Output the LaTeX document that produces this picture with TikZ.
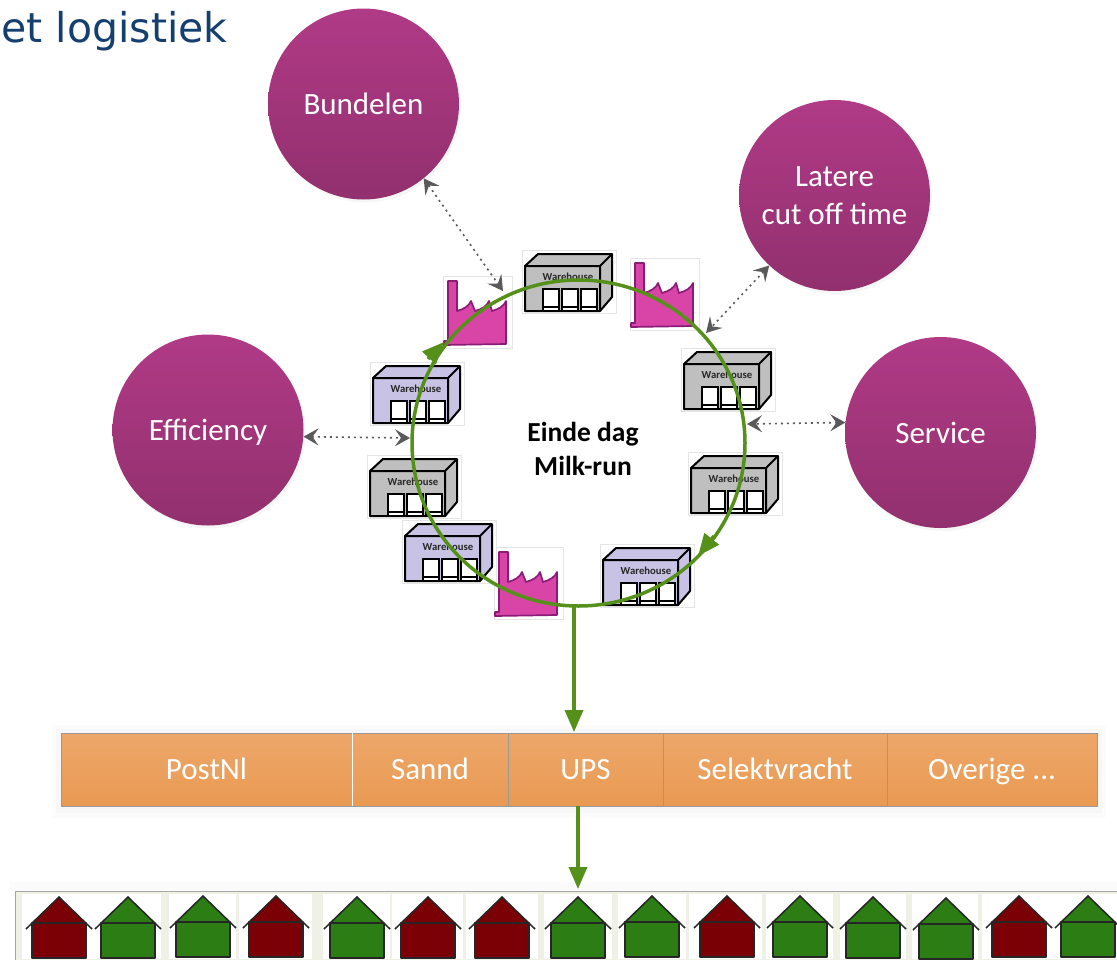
\documentclass[tikz,border=0pt]{standalone}
\usepackage{fontspec}
\setmainfont{Carlito}
\newfontfamily\titlefont{DejaVu Sans}
\usepackage{tikz}
\usetikzlibrary{arrows.meta,shapes.geometric,shadows}
\definecolor{ringgreen}{HTML}{55911A}
\definecolor{tipgray}{HTML}{5A5A5A}
\definecolor{plumtop}{HTML}{B03A86}
\definecolor{plumbottom}{HTML}{92306E}
\definecolor{celltop}{HTML}{EDA76A}
\definecolor{cellbottom}{HTML}{E99A52}
\definecolor{factoryfill}{HTML}{D945A6}
\definecolor{factoryline}{HTML}{8A1C78}
\definecolor{shedgray}{HTML}{BFBFBF}
\definecolor{shedpurple}{HTML}{C8C2E4}
\definecolor{houseRed}{HTML}{7A0006}
\definecolor{houseGreen}{HTML}{2B7D14}
\definecolor{titleblue}{HTML}{153F6E}
\definecolor{panelfill}{HTML}{EFF1E7}
\begin{document}
\begin{tikzpicture}[x=1pt,y=-1pt]
                      \tikzstyle{bubble}=[circle,minimum size=191pt,inner sep=0pt,top color=plumtop,bottom color=plumbottom,text=white,align=center,font=\fontsize{31}{38}\selectfont,drop shadow={opacity=.07,shadow xshift=2pt,shadow yshift=-3pt}]
                      \tikzstyle{cell}=[rectangle,minimum height=73pt,inner sep=0pt,text height=22pt,text depth=2pt,draw=gray!80,top color=celltop,bottom color=cellbottom,text=white,font=\fontsize{31}{36}\selectfont]
                      \tikzstyle{link}=[draw=tipgray,line width=1.6pt,dash pattern=on 2pt off 4pt,{Stealth[length=15pt,width=17pt,inset=6pt]}-{Stealth[length=15pt,width=17pt,inset=6pt]}]
                      \tikzstyle{flow}=[draw=ringgreen,line width=3.5pt,-{Triangle[length=22pt,width=18pt]}]
                      \useasboundingbox (0,0) rectangle (1117,959);
                      \clip (0,0) rectangle (1117,959);
                      \node (title) at (-2,42) [anchor=base west,text=titleblue,font=\titlefont\fontsize{41}{48}\selectfont] {et logistiek};
                      \node (bundelen) at (363.5,104) [bubble] {Bundelen};
                      \node (latere) at (834.5,195.5) [bubble] {Latere\\cut off time};
                      \node (efficiency) at (208,430) [bubble,text depth=0pt] {Efficiency};
                      \node (service) at (940.5,432.5) [bubble] {Service};
                      % factories
                      \foreach \x/\y in {443/276,630/258,494/547}{
                        \begin{scope}[shift={(\x,\y)}]
                          \draw[draw=black!10,fill=white] (0,0) rectangle (69,72);
                          \draw[draw=factoryline,fill=factoryfill,line width=1.7pt,line join=round] (5,5) -- (14,5) -- (14,35) .. controls (21,33) and (26,30) .. (28,25) -- (32,35) .. controls (39,33) and (44,30) .. (46,25) -- (49,35) .. controls (56,33) and (61,30) .. (63,25) -- (63,68) -- (1,69) -- (1,65) -- (5,65) -- cycle;
                        \end{scope}
                      }
                      % warehouses
                      \foreach \x/\y/\c in {522/250/shedgray,370/362/shedpurple,367/455/shedgray,402/520/shedpurple,600/544/shedpurple,681/348/shedgray,688/452/shedgray}{
                        \begin{scope}[shift={(\x,\y)}]
                          \draw[draw=black!10,fill=white] (0,0) rectangle (94,63);
                          \draw[line width=2pt,line join=round,fill=\c] (3,16) -- (16,4) -- (90,4) -- (90,47) -- (78,61) -- (3,61) -- cycle;
                          \draw[line width=2pt,line join=round] (3,16) -- (78,16) -- (90,4) (78,16) -- (78,61);
                          \foreach \d in {21,40,59}{
                            \draw[line width=1.8pt,fill=white] (\d,39) rectangle ++(16,22);
                            \draw[line width=1.3pt] (\d,57) -- ++(16,0);
                          }
                          \path (46,27) node [text=black!85,inner sep=0pt,font=\bfseries\fontsize{10.7}{12}\selectfont] {Warehouse};
                        \end{scope}
                      }
                      \node (ring) at (578.5,443) [ellipse,draw=ringgreen,line width=3.5pt,inner sep=0pt,minimum width=333pt,minimum height=326pt] {};
                      \node (caption) at (583,449) [align=center,inner sep=0pt,font=\bfseries\fontsize{27.5}{34}\selectfont] {Einde dag\\Milk-run};
                      % arrows on the ring
                      \coordinate (ringatail) at (428,359);
                      \coordinate (ringa) at (444,342);
                      \coordinate (ringbtail) at (714,536);
                      \coordinate (ringb) at (698,556);
                      \draw[flow] (ringatail) -- (ringa);
                      \draw[flow] (ringbtail) -- (ringb);
                      % carriers
                      \fill[black,opacity=.012] (52,725) rectangle (1106,818);
                      \fill[black,opacity=.018] (56,729) rectangle (1102,813);
                      \node (postnl) at (206.5,769.5) [cell,minimum width=291pt] {PostNl};
                      \node (sannd) at (430,769.5) [cell,minimum width=156pt] {Sannd};
                      \node (ups) at (585.5,769.5) [cell,minimum width=155pt] {UPS};
                      \node (selekt) at (775,769.5) [cell,minimum width=224pt] {Selektvracht};
                      \node (overige) at (992,769.5) [cell,minimum width=210pt] {Overige ...};
                      \draw[white,line width=1pt] (postnl.north east) -- (postnl.south east);
                      % dotted links
                      \coordinate (ringn) at (503,291);
                      \coordinate (ringne) at (706,333);
                      \coordinate (ringw) at (410,438);
                      \coordinate (ringe) at (747,424);
                      \draw[link] (bundelen.-51) -- (ringn);
                      \draw[link] (latere.-133) -- (ringne);
                      \draw[link] (efficiency.-4) -- (ringw);
                      \draw[link] (service.174) -- (ringe);
                      % houses
                      \coordinate (ringout) at (574,606);
                      \coordinate (upsout) at (578,806);
                      \coordinate (panelin) at (578,889);
                      \coordinate (upsin) at (574,732);
                      \draw[flow] (ringout) -- (upsin);
                      \fill[black,opacity=.015] (10,882) rectangle (1130,891);
                      \draw[draw=black!35,fill=panelfill] (15,891) rectangle (1130,970);
                      \foreach \x/\y/\l/\r/\c in {59/897/22/95/houseRed,128/897/95/161/houseGreen,203/896/169/236/houseGreen,276/896/239/312/houseRed,357/897/323/390/houseGreen,428/897/392/463/houseRed,502/897/466/538/houseRed,578/897/544/612/houseGreen,652/896/618/686/houseGreen,727/896/689/762/houseRed,800/896/766/833/houseGreen,873/897/840/906/houseGreen,946/898/912/978/houseGreen,1019/896/982/1055/houseRed,1088/896/1055/1117/houseGreen}{
                        \fill[white] (\l,894) rectangle (\r,959);
                        \fill[\c] (\x-27,\y+26) -- (\x,\y) -- (\x+27,\y+26) -- cycle;
                        \draw[draw=black!85,line width=1.5pt,fill=\c,line join=round] (\x-27,\y+26) rectangle (\x+27,\y+61);
                        \draw[draw=black!85,line width=1.5pt] (\x-33,\y+32) -- (\x,\y) -- (\x+33,\y+32);
                      }
                      \draw[flow] (upsout) -- (panelin);
                  \end{tikzpicture}
\end{document}
